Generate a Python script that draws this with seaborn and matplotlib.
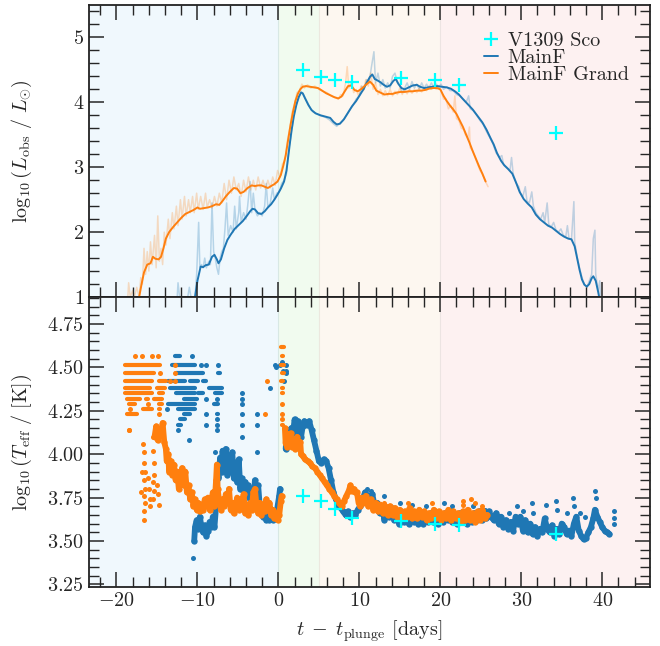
import numpy as np
import pandas as pd
import matplotlib
matplotlib.use("Agg")
import matplotlib.pyplot as plt
import seaborn as sns
from matplotlib.ticker import MultipleLocator
from matplotlib.lines import Line2D

sns.set_theme(style="ticks")
plt.rcParams.update({
    "font.family": "serif",
    "font.serif": ["cmr10"],
    "mathtext.fontset": "cm",
    "axes.formatter.use_mathtext": True,
    "axes.unicode_minus": True,
    "font.size": 14.5,
    "axes.labelsize": 14.5,
    "xtick.labelsize": 14.5,
    "ytick.labelsize": 14.5,
    "legend.fontsize": 14.5,
    "xtick.direction": "in",
    "ytick.direction": "in",
    "xtick.top": True,
    "ytick.right": True,
    "xtick.major.size": 11,
    "ytick.major.size": 11,
    "xtick.minor.size": 7,
    "ytick.minor.size": 7,
    "xtick.major.width": 1.1,
    "ytick.major.width": 1.1,
    "xtick.minor.width": 1.0,
    "ytick.minor.width": 1.0,
    "axes.linewidth": 1.3,
    "axes.edgecolor": "#222222",
})

BLUE = "#1f77b4"
ORANGE = "#ff7f0e"
CYAN = "#00ffff"

# ---------------- observed luminosity (V1309 Sco) ----------------
sco_t = [3.1, 5.3, 7.0, 9.1, 15.1, 19.3, 22.3, 34.3]
sco_logL = [4.50, 4.39, 4.35, 4.32, 4.37, 4.35, 4.26, 3.52]
sco_logT = [3.76, 3.73, 3.685, 3.635, 3.615, 3.60, 3.59, 3.54]

# ---------------- MainF luminosity ----------------
mainf_t = [-10.3, -10.0, -9.6, -9.3, -9.0, -8.6, -8.2, -7.9, -7.6, -7.4, -7.1, -6.7, -6.3, -5.9,
           -5.4, -4.9, -4.4, -3.9, -3.5, -3.2, -2.9, -2.5, -2.1, -1.7, -1.3, -0.9, -0.5, -0.1,
           0.3, 0.7, 1.0, 1.3, 1.6, 1.9, 2.2, 2.5, 2.8, 3.0, 3.3, 3.7, 4.1, 4.6, 5.2, 5.8, 6.4,
           6.8, 7.2, 7.6, 8.1, 8.6, 9.1, 9.6, 10.1, 10.5, 10.9, 11.3, 11.6, 11.9, 12.2, 12.6,
           13.0, 13.4, 13.8, 14.2, 14.5, 14.8, 15.2, 15.6, 16.1, 16.6, 17.1, 17.5, 18.0, 18.5,
           19.0, 19.6, 20.2, 20.8, 21.3, 21.8, 22.3, 22.8, 23.4, 24.0, 24.6, 25.2, 25.7, 26.2,
           26.6, 27.0, 27.5, 27.9, 28.4, 28.9, 29.4, 29.8, 30.3, 30.8, 31.3, 31.8, 32.3, 32.8,
           33.3, 33.8, 34.3, 34.8, 35.3, 35.8, 36.2, 36.6, 36.9, 37.2, 37.5, 37.8, 38.1, 38.4,
           38.7, 38.9, 39.2, 39.5, 39.7]
mainf_logL = [1.0, 1.25, 1.47, 1.46, 1.49, 1.50, 1.62, 1.65, 1.58, 1.52, 1.58, 1.75, 1.88, 1.96,
              2.05, 2.11, 2.17, 2.25, 2.32, 2.36, 2.35, 2.29, 2.28, 2.32, 2.38, 2.43, 2.50, 2.58,
              2.67, 2.78, 2.95, 3.25, 3.55, 3.78, 3.95, 4.08, 4.15, 4.14, 4.06, 3.96, 3.88, 3.83,
              3.80, 3.78, 3.76, 3.70, 3.66, 3.67, 3.74, 3.84, 3.94, 4.02, 4.12, 4.20, 4.30, 4.39,
              4.43, 4.36, 4.34, 4.31, 4.27, 4.24, 4.26, 4.33, 4.36, 4.29, 4.22, 4.20, 4.23, 4.26,
              4.27, 4.24, 4.22, 4.23, 4.24, 4.25, 4.24, 4.23, 4.21, 4.17, 4.12, 4.05, 3.97, 3.89,
              3.79, 3.69, 3.58, 3.45, 3.35, 3.22, 3.10, 3.03, 2.97, 2.90, 2.75, 2.62, 2.51, 2.44,
              2.38, 2.27, 2.20, 2.15, 2.10, 2.07, 2.02, 1.97, 1.93, 1.90, 1.89, 1.78, 1.60, 1.42,
              1.27, 1.19, 1.16, 1.20, 1.29, 1.32, 1.25, 1.08, 0.95]

mainf_raw_t = [-12.5, -12.4, -12.2, -11.2, -11.0, -10.8, -10.3, -10.1, -9.85, -9.7, -9.5, -9.3,
               -9.1, -8.9, -8.6, -8.4, -8.2, -8.0, -7.8, -7.6, -7.4, -7.2, -7.0, -6.8, -6.6,
               -6.4, -6.2, -5.9, -5.6, -5.4, -5.2, -4.9, -4.8, -4.6, -4.3, -4.0, -3.8, -3.5,
               -3.3, -3.1, -2.9, -2.6, -2.3, -2.0, -1.7, -1.5, -1.3, -1.0, -0.7, -0.5, -0.2,
               0.1, 0.4, 0.7, 1.0, 1.3, 1.6, 1.9, 2.2, 2.5, 2.8, 3.1, 3.5, 3.9, 4.3, 4.8, 5.3,
               5.8, 6.3, 6.8, 7.2, 7.6, 8.0, 8.4, 8.8, 9.2, 9.6, 10.0, 10.3, 10.6, 10.9, 11.2,
               11.5, 11.8, 12.0, 12.3, 12.6, 12.9, 13.2, 13.5, 13.8, 14.1, 14.4, 14.7, 15.0,
               15.3, 15.6, 15.9, 16.2, 16.5, 16.8, 17.1, 17.4, 17.7, 18.0, 18.3, 18.6, 18.9,
               19.2, 19.5, 19.8, 20.1, 20.4, 20.8, 21.2, 21.6, 22.0, 22.4, 22.8, 23.2, 23.5,
               23.7, 24.1, 24.5, 24.9, 25.3, 25.7, 26.1, 26.5, 26.9, 27.3, 27.6, 27.8, 28.2,
               28.6, 28.8, 29.0, 29.4, 29.7, 29.9, 30.2, 30.5, 30.7, 31.0, 31.3, 31.5, 31.8,
               32.1, 32.4, 32.7, 32.9, 33.2, 33.4, 33.7, 34.0, 34.3, 34.6, 34.9, 35.2, 35.5,
               35.7, 35.9, 36.2, 36.5, 36.6, 36.9, 37.2, 37.5, 37.8, 38.1, 38.4, 38.7, 38.9,
               39.1, 39.2, 39.5, 39.7, 39.8]
mainf_raw_logL = [1.0, 1.22, 1.0, 1.0, 1.15, 1.0, 1.0, 1.35, 2.15, 1.45, 1.5, 1.45,
                  1.6, 1.45, 1.55, 1.5, 2.45, 1.7, 1.6, 1.45, 1.35, 1.6, 1.7, 1.75, 2.05,
                  2.45, 1.95, 2.1, 2.0, 2.4, 2.05, 2.3, 2.55, 2.15, 2.3, 2.2, 2.4, 2.78,
                  2.3, 2.6, 2.35, 2.25, 2.3, 2.25, 2.4, 2.75, 2.38, 2.45, 2.68, 2.5, 2.6,
                  2.62, 2.75, 2.8, 2.9, 3.3, 3.5, 3.8, 3.98, 4.05, 4.17, 4.12, 4.02, 3.92, 3.85,
                  3.82, 3.79, 3.77, 3.73, 3.67, 3.63, 3.68, 3.72, 3.8, 3.88, 3.95, 4.05, 4.1, 4.25,
                  4.2, 4.35, 4.3, 4.55, 4.78, 4.3, 4.45, 4.25, 4.35, 4.22, 4.3, 4.22, 4.4, 4.45,
                  4.3, 4.25, 4.15, 4.22, 4.3, 4.2, 4.32, 4.22, 4.28, 4.2, 4.3, 4.22, 4.28, 4.22,
                  4.3, 4.23, 4.28, 4.24, 4.28, 4.2, 4.24, 4.18, 4.18, 4.12, 4.1, 4.05, 4.0, 4.1,
                  3.9, 3.87, 3.8, 3.72, 3.66, 3.55, 3.46, 3.36, 3.22, 3.15, 3.18, 3.05, 3.0,
                  2.95, 3.15, 2.9, 2.75, 2.7, 2.6, 2.55, 2.7, 2.48, 2.45, 2.62, 2.4, 2.3,
                  2.25, 2.2, 2.3, 2.15, 2.45, 2.12, 2.08, 2.15, 2.03, 2.0, 2.05, 1.95, 1.93,
                  2.1, 1.9, 1.88, 2.47, 1.85, 1.62, 1.45, 1.3, 1.2, 1.15, 1.25, 1.35, 1.9,
                  2.03, 1.35, 1.1, 1.25, 1.0]

# ---------------- MainF Grand luminosity ----------------
grand_t = [-17.2, -16.9, -16.6, -16.2, -15.8, -15.5, -15.2, -14.8, -14.5, -14.2, -13.9, -13.5,
           -13.0, -12.5, -12.0, -11.5, -11.0, -10.5, -10.0, -9.7, -9.2, -8.7, -8.2, -7.7, -7.3,
           -6.9, -6.5, -6.0, -5.5, -5.1, -4.7, -4.3, -3.8, -3.3, -2.9, -2.5, -2.1, -1.7, -1.3,
           -0.9, -0.5, -0.1, 0.3, 0.6, 0.9, 1.2, 1.5, 1.8, 2.1, 2.4, 2.7, 3.0, 3.4, 3.9, 4.4,
           4.9, 5.4, 5.9, 6.4, 6.9, 7.4, 7.8, 8.2, 8.6, 9.0, 9.4, 9.8, 10.3, 10.8, 11.3, 11.7,
           12.1, 12.6, 13.1, 13.6, 14.1, 14.6, 15.1, 15.6, 16.1, 16.6, 17.1, 17.6, 18.1, 18.6,
           19.1, 19.6, 20.0, 20.4, 20.8, 21.2, 21.6, 22.0, 22.4, 22.8, 23.2, 23.6, 24.0, 24.4,
           24.8, 25.2, 25.6]
grand_logL = [1.0, 1.2, 1.38, 1.50, 1.52, 1.62, 1.59, 1.58, 1.62, 1.75, 1.90, 2.00,
              2.08, 2.15, 2.22, 2.28, 2.31, 2.34, 2.38, 2.36, 2.37, 2.38, 2.40, 2.43, 2.42,
              2.48, 2.55, 2.62, 2.68, 2.67, 2.60, 2.62, 2.68, 2.72, 2.71, 2.72, 2.72, 2.70, 2.68,
              2.71, 2.74, 2.78, 2.88, 3.02, 3.18, 3.42, 3.65, 3.85, 4.02, 4.13, 4.20, 4.24, 4.25,
              4.24, 4.23, 4.22, 4.18, 4.14, 4.11, 4.08, 4.06, 4.09, 4.17, 4.25, 4.26, 4.19, 4.17,
              4.21, 4.27, 4.32, 4.27, 4.18, 4.15, 4.12, 4.13, 4.13, 4.15, 4.16, 4.16, 4.17, 4.17,
              4.18, 4.18, 4.19, 4.21, 4.22, 4.22, 4.20, 4.10, 4.02, 3.95, 3.89, 3.82, 3.72, 3.62,
              3.50, 3.38, 3.25, 3.13, 3.01, 2.90, 2.78]

grand_raw_t = [-18.6, -18.5, -18.3, -18.0, -17.8, -17.5, -17.2, -17.0, -16.8, -16.6, -16.4,
               -16.2, -16.0, -15.8, -15.6, -15.3, -15.1, -14.9, -14.7, -14.5, -14.3, -14.1,
               -13.9, -13.6, -13.4, -13.1, -12.9, -12.6, -12.4, -12.1, -11.9, -11.6, -11.4,
               -11.1, -10.9, -10.6, -10.4, -10.1, -9.9, -9.6, -9.3, -9.0, -8.8, -8.5, -8.2,
               -7.9, -7.6, -7.3, -7.0, -6.7, -6.4, -6.1, -5.8, -5.5, -5.2, -4.9, -4.6, -4.3,
               -4.0, -3.7, -3.4, -3.1, -2.8, -2.5, -2.2, -1.9, -1.6, -1.3, -1.0, -0.7, -0.4,
               -0.1, 0.2, 0.5, 0.8, 1.1, 1.4, 1.7, 2.0, 2.3, 2.6, 2.9, 3.2, 3.6, 4.0, 4.5, 5.0,
               5.5, 6.0, 6.5, 7.0, 7.4, 7.7, 8.0, 8.3, 8.5, 8.7, 9.0, 9.3, 9.6, 9.9, 10.2, 10.5,
               10.8, 11.1, 11.4, 11.7, 12.0, 12.3, 12.6, 12.9, 13.2, 13.5, 13.8, 14.1, 14.4,
               14.7, 15.0, 15.3, 15.6, 15.9, 16.2, 16.5, 16.8, 17.1, 17.4, 17.7, 18.0, 18.3,
               18.6, 18.9, 19.2, 19.5, 19.8, 20.1, 20.4, 20.7, 21.0, 21.3, 21.6, 21.8, 22.0,
               22.3, 22.6, 22.9, 23.1, 23.4, 23.6, 23.7, 24.0, 24.3, 24.6, 24.9, 25.2, 25.5,
               25.9]
grand_raw_logL = [1.0, 1.22, 1.0, 1.1, 1.0, 1.15, 1.0, 1.3, 1.2, 1.75, 1.35,
                  1.7, 1.4, 1.85, 1.5, 1.95, 1.45, 2.25, 1.55, 1.75, 1.5, 2.0,
                  1.8, 2.2, 1.9, 2.3, 2.05, 2.4, 2.1, 2.5, 2.2, 2.55, 2.25,
                  2.5, 2.3, 2.55, 2.3, 2.6, 2.35, 2.55, 2.35, 2.6, 2.38, 2.5, 2.37,
                  2.55, 2.4, 2.6, 2.45, 2.75, 2.5, 2.8, 2.6, 2.85, 2.65, 2.75, 2.55, 2.8,
                  2.62, 2.85, 2.65, 2.8, 2.65, 2.85, 2.68, 2.8, 2.66, 2.8, 2.68, 2.85, 2.72,
                  2.95, 2.85, 3.05, 3.1, 3.4, 3.6, 3.85, 3.98, 4.15, 4.18, 4.28, 4.22, 4.27, 4.22,
                  4.25, 4.2, 4.17, 4.15, 4.1, 4.07, 4.05, 4.12, 4.1, 4.3, 4.55, 4.22, 4.3, 4.15,
                  4.2, 4.1, 4.25, 4.18, 4.35, 4.25, 4.45, 4.2, 4.3, 4.12, 4.2, 4.1, 4.18, 4.1,
                  4.2, 4.1, 4.17, 4.12, 4.22, 4.12, 4.2, 4.13, 4.2, 4.14, 4.2, 4.15, 4.22, 4.16,
                  4.22, 4.18, 4.25, 4.2, 4.25, 4.2, 4.23, 4.18, 4.05, 4.05, 3.9, 3.95, 3.85,
                  4.1, 3.75, 3.72, 3.6, 3.58, 3.5, 3.45, 3.62, 3.3, 3.25, 3.15, 3.05, 2.95,
                  2.9, 2.8, 2.7]

# ---------------- effective temperature ----------------
# quantised hot rows: level -> list of (t_start, t_end)
mainf_rows = {
    4.563: [(-12.8, -12.1), (-10.7, -10.7)],
    4.513: [(-13.2, -10.3), (-9.5, -9.5), (-8.9, -8.9), (-7.4, -7.4), (-0.4, -0.4), (0.2, 0.2), (1.0, 1.0)],
    4.465: [(-12.6, -9.3), (-7.4, -7.2), (1.0, 1.0)],
    4.420: [(-13.6, -11.5), (-10.9, -9.9), (-9.3, -8.9)],
    4.380: [(-13.4, -10.3), (-8.6, -7.0), (-1.0, -1.0)],
    4.350: [(-12.6, -10.3), (-9.9, -9.3), (-7.8, -7.0), (-4.5, -4.5)],
    4.317: [(-11.7, -10.1), (-8.9, -8.9), (-7.6, -7.6), (-4.5, -4.5)],
    4.290: [(-13.6, -10.3), (-8.0, -7.4), (-4.5, -4.5)],
    4.260: [(-13.8, -13.8), (-12.4, -10.3)],
    4.230: [(-11.7, -10.9), (-8.9, -8.9), (-7.6, -7.4), (-4.5, -4.5), (-2.7, -2.7)],
    4.200: [(-12.1, -11.5), (-7.6, -7.6)],
    4.170: [(-12.4, -12.0), (-8.9, -8.9), (-7.6, -7.6), (-4.5, -4.5), (-2.7, -2.7)],
    4.140: [(-12.4, -12.4), (-7.6, -7.6)],
    4.100: [(-4.5, -4.5)],
    4.080: [(-11.1, -11.1)],
    4.010: [(-7.8, -7.8), (-2.7, -2.7)],
}
grand_rows = {
    4.620: [(0.3, 0.7)],
    4.563: [(-17.7, -17.7), (-16.9, -16.9), (-15.6, -15.6), (-14.9, -14.9), (0.4, 0.6)],
    4.513: [(-18.9, -14.6), (-12.8, -12.8), (0.3, 0.7)],
    4.465: [(-18.9, -15.4), (-14.6, -14.6), (-12.8, -12.8), (0.4, 0.7)],
    4.420: [(-18.9, -15.6), (-14.8, -13.9), (-13.4, -13.4), (-12.8, -12.8), (-1.45, -1.45), (0.3, 0.6)],
    4.380: [(-18.9, -15.8), (-15.0, -14.0), (0.4, 0.6)],
    4.350: [(-18.9, -15.6), (-14.8, -14.2), (0.4, 0.6)],
    4.317: [(-18.7, -17.1), (-16.3, -16.1), (-15.4, -14.4)],
    4.290: [(-18.5, -17.7), (-16.1, -16.1), (-14.8, -14.4), (0.5, 0.5)],
    4.260: [(-18.3, -18.3), (-16.7, -15.6), (-14.8, -14.6)],
    4.230: [(-18.7, -17.5), (-14.8, -14.8), (-1.65, -1.65), (0.5, 0.5)],
    4.200: [(0.5, 0.5)],
    4.170: [(0.4, 0.6)],
    4.140: [(-18.5, -18.5)],
}

# dense cooling tracks
mainf_track_t = [-10.4, -10.3, -10.1, -9.9, -9.7, -9.5, -9.3, -9.1, -8.9, -8.7, -8.5, -8.3, -8.1,
                 -7.9, -7.7, -7.6, -7.5, -7.4, -7.2, -7.0, -6.9, -6.7, -6.5, -6.3, -6.1, -5.9,
                 -5.7, -5.5, -5.3, -5.1, -4.9, -4.7, -4.5, -4.3, -4.1, -3.9, -3.7, -3.5, -3.3,
                 -3.1, -2.9, -2.7, -2.5, -2.3, -2.1, -1.9, -1.7, -1.5, -1.3, -1.1, -0.9, -0.7,
                 -0.5, -0.3, -0.1, 0.1, 0.2]
mainf_track_logT = [3.50, 3.58, 3.62, 3.57, 3.64, 3.58, 3.55, 3.59, 3.53, 3.56, 3.61, 3.58, 3.64,
                    3.58, 3.70, 3.80, 3.92, 3.86, 3.98, 3.90, 4.02, 3.92, 4.03, 3.88, 3.96, 3.90,
                    4.01, 3.86, 3.95, 3.84, 3.97, 3.80, 3.86, 3.78, 3.84, 3.76, 3.82, 3.74, 3.79,
                    3.72, 3.85, 3.76, 3.82, 3.70, 3.68, 3.64, 3.66, 3.62, 3.65, 3.62, 3.66, 3.62,
                    3.66, 3.64, 3.70, 3.76, 3.80]
mainf_late_t = [0.9, 1.0, 1.1, 1.2, 1.4, 1.6, 1.8, 2.0, 2.2, 2.4, 2.6, 2.8, 3.0, 3.2, 3.5, 3.8,
                4.1, 4.4, 4.7, 5.0, 5.3, 5.6, 5.9, 6.2, 6.5, 6.8, 7.1, 7.4, 7.7, 8.0, 8.3, 8.6,
                8.9, 9.2, 9.5, 9.8, 10.1, 10.4, 10.7, 11.0, 11.3, 11.6, 11.9, 12.2, 12.5, 12.8,
                13.1, 13.4, 13.7, 14.0, 14.3, 14.6, 14.9, 15.2, 15.5, 15.8, 16.1, 16.4, 16.7,
                17.0, 17.3, 17.6, 17.9, 18.2, 18.5, 18.8, 19.1, 19.4, 19.7, 20.0, 20.3, 20.6,
                20.9, 21.2, 21.5, 21.8, 22.1, 22.4, 22.7, 23.0, 23.3, 23.6, 23.9, 24.2, 24.5,
                24.8, 25.1, 25.4, 25.7, 26.0, 26.3, 26.6, 26.9, 27.2, 27.5, 27.8, 28.1, 28.4,
                28.7, 29.0, 29.3, 29.6, 29.9, 30.2, 30.5, 30.8, 31.1, 31.4, 31.7, 32.0, 32.3,
                32.6, 32.9, 33.2, 33.5, 33.8, 34.1, 34.4, 34.7, 35.0, 35.3, 35.6, 35.9, 36.2,
                36.5, 36.8, 37.1, 37.4, 37.7, 38.0, 38.3, 38.6, 38.9, 39.1, 39.4, 39.7, 40.0,
                40.3, 40.6, 40.9]
mainf_late_logT = [4.03, 4.10, 4.05, 4.14, 4.08, 4.15, 4.12, 4.20, 4.14, 4.19, 4.12, 4.10, 4.16,
                   4.19, 4.17, 4.19, 4.14, 4.08, 4.02, 3.96, 3.95, 3.97, 3.96, 3.92, 3.85, 3.78,
                   3.74, 3.71, 3.69, 3.67, 3.65, 3.67, 3.64, 3.66, 3.65, 3.68, 3.70, 3.74, 3.78,
                   3.76, 3.74, 3.77, 3.70, 3.72, 3.66, 3.70, 3.62, 3.68, 3.64, 3.69, 3.62, 3.66,
                   3.60, 3.65, 3.61, 3.66, 3.60, 3.64, 3.61, 3.66, 3.60, 3.64, 3.60, 3.65, 3.61,
                   3.66, 3.61, 3.64, 3.60, 3.65, 3.61, 3.66, 3.62, 3.67, 3.61, 3.65, 3.60, 3.66,
                   3.61, 3.65, 3.60, 3.64, 3.61, 3.66, 3.62, 3.67, 3.62, 3.66, 3.63, 3.67, 3.64,
                   3.62, 3.66, 3.60, 3.64, 3.58, 3.62, 3.57, 3.61, 3.56, 3.64, 3.60, 3.64, 3.56,
                   3.62, 3.55, 3.60, 3.54, 3.58, 3.53, 3.57, 3.55, 3.63, 3.57, 3.55, 3.59, 3.53,
                   3.57, 3.54, 3.60, 3.58, 3.54, 3.56, 3.53, 3.60, 3.64, 3.56, 3.53, 3.51, 3.52,
                   3.55, 3.58, 3.63, 3.68, 3.64, 3.61, 3.58, 3.56, 3.55, 3.54]
mainf_dots_t = [-10.5, -0.3, 0.5, 0.6, 0.7, 0.9, 11.0, 11.5, 13.0, 15.0, 16.5, 18.2, 20.5, 21.5,
                24.0, 25.5, 28.5, 29.5, 30.2, 31.3, 31.5, 33.1, 34.3, 34.4, 35.6, 36.4, 36.5,
                37.2, 37.9, 39.1, 39.2, 41.4, 41.4, 41.4]
mainf_dots_logT = [3.40, 4.50, 4.53, 4.48, 4.42, 4.48, 3.80, 3.79, 3.76, 3.72, 3.71, 3.70, 3.72,
                   3.70, 3.70, 3.68, 3.66, 3.70, 3.67, 3.72, 3.66, 3.71, 3.73, 3.68, 3.66, 3.75,
                   3.70, 3.66, 3.64, 3.79, 3.75, 3.67, 3.63, 3.60]

grand_track_t = [-15.3, -15.1, -14.9, -14.7, -14.5, -14.3, -14.1, -13.9, -13.8, -13.6, -13.5,
                 -13.3, -13.1, -12.9, -12.7, -12.5, -12.3, -12.1, -11.9, -11.7, -11.5, -11.3,
                 -11.1, -10.9, -10.7, -10.5, -10.3, -10.1, -9.9, -9.7, -9.5, -9.3, -9.1, -8.9,
                 -8.7, -8.5, -8.3, -8.1, -7.9, -7.7, -7.6, -7.5, -7.3, -7.1, -6.9, -6.7, -6.5,
                 -6.3, -6.1, -5.9, -5.7, -5.5, -5.3, -5.1, -4.9, -4.7, -4.5, -4.3, -4.1, -3.9,
                 -3.7, -3.5, -3.3, -3.1, -2.9, -2.7, -2.5, -2.3, -2.1, -1.9, -1.7, -1.5, -1.3,
                 -1.1, -0.9, -0.7, -0.5, -0.3, -0.1, 0.1, 0.3, 0.4]
grand_track_logT = [4.10, 4.16, 4.08, 4.14, 4.12, 4.18, 4.07, 4.03, 3.96, 4.00, 3.90,
                    3.96, 3.88, 3.94, 3.85, 3.90, 3.80, 3.86, 3.92, 3.82, 3.90, 3.78,
                    3.82, 3.74, 3.78, 3.70, 3.74, 3.68, 3.72, 3.67, 3.71, 3.68, 3.74, 3.70,
                    3.75, 3.68, 3.73, 3.78, 3.70, 3.85, 3.94, 3.80, 3.72, 3.68, 3.74, 3.70, 3.77,
                    3.72, 3.80, 3.68, 3.72, 3.66, 3.70, 3.75, 3.68, 3.74, 3.70, 3.77, 3.66, 3.70,
                    3.65, 3.72, 3.68, 3.78, 3.80, 3.70, 3.66, 3.72, 3.65, 3.70, 3.67, 3.74, 3.68,
                    3.72, 3.65, 3.68, 3.63, 3.66, 3.62, 3.65, 3.73, 3.76]
grand_late_t = [0.8, 0.9, 1.0, 1.1, 1.2, 1.3, 1.5, 1.7, 1.9, 2.1, 2.3, 2.5, 2.7, 2.8, 3.0, 3.3,
                3.6, 3.9, 4.2, 4.5, 4.8, 5.1, 5.4, 5.7, 6.0, 6.3, 6.6, 6.9, 7.2, 7.5, 7.8, 8.1,
                8.4, 8.7, 8.9, 9.1, 9.3, 9.5, 9.7, 9.9, 10.1, 10.3, 10.5, 10.8, 11.1, 11.4, 11.7,
                12.0, 12.3, 12.6, 12.9, 13.2, 13.5, 13.8, 14.1, 14.4, 14.7, 15.0, 15.3, 15.6,
                15.9, 16.2, 16.5, 16.8, 17.1, 17.4, 17.7, 18.0, 18.3, 18.6, 18.9, 19.2, 19.5,
                19.8, 20.1, 20.4, 20.7, 21.0, 21.3, 21.6, 21.9, 22.2, 22.5, 22.8, 23.1, 23.4,
                23.7, 24.0, 24.3, 24.6, 24.9, 25.2, 25.5, 25.8]
grand_late_logT = [4.15, 4.06, 4.12, 4.04, 4.10, 4.06, 4.12, 4.04, 4.08, 4.03, 4.10, 4.05, 4.07,
                   4.00, 3.99, 3.97, 3.96, 3.95, 3.93, 3.92, 3.90, 3.88, 3.86, 3.84, 3.82, 3.80,
                   3.78, 3.76, 3.74, 3.72, 3.70, 3.73, 3.76, 3.79, 3.82, 3.79, 3.80, 3.78, 3.78,
                   3.72, 3.70, 3.75, 3.72, 3.76, 3.70, 3.74, 3.68, 3.72, 3.67, 3.71, 3.66, 3.70,
                   3.65, 3.70, 3.65, 3.69, 3.64, 3.68, 3.63, 3.67, 3.64, 3.69, 3.63, 3.67, 3.63,
                   3.68, 3.64, 3.67, 3.62, 3.66, 3.63, 3.68, 3.63, 3.67, 3.62, 3.66, 3.63, 3.68,
                   3.62, 3.67, 3.63, 3.66, 3.61, 3.67, 3.62, 3.68, 3.62, 3.66, 3.61, 3.67, 3.62,
                   3.68, 3.63, 3.65]
grand_dots_t = [-18.5, -16.7, -16.6, -16.6, -16.5, -16.6, -16.5, -16.6, -16.5, -16.6, -16.6,
                -16.1, -16.0, -15.9, -15.8, -15.5, -15.5, -15.4, -15.4, -15.5, -15.4, -15.5,
                -15.0, -14.9, -14.8, -17.0, -16.9, 13.0, 16.0, 19.0, 22.8, 22.8, 23.8, 24.3,
                25.2]
grand_dots_logT = [4.14, 4.06, 4.01, 3.95, 3.90, 3.85, 3.80, 3.76, 3.72, 3.67, 3.62,
                   3.86, 3.80, 3.74, 3.70, 4.10, 4.02, 3.95, 3.88, 3.84, 3.79, 3.74,
                   3.82, 3.77, 3.71, 3.78, 3.90, 3.72, 3.72, 3.72, 3.73, 3.71, 3.74, 3.72,
                   3.70]

# ---------------- figure ----------------
XMIN, XMAX = -23.4, 45.9
phases = [(XMIN, 0.0, "#f0f8fd"), (0.0, 5.0, "#f1fbef"), (5.0, 20.0, "#fdf7f0"), (20.0, XMAX, "#fdf1f1")]

fig = plt.figure(figsize=(6.6, 6.46), dpi=100)
ax1 = fig.add_axes([0.1348, 0.5402, 0.8500, 0.4521])
ax2 = fig.add_axes([0.1348, 0.0913, 0.8500, 0.4489], sharex=ax1)

for ax in (ax1, ax2):
    for x0, x1, c in phases:
        ax.axvspan(x0, x1, color=c, lw=0, zorder=0)
    for xb, c in [(0.0, "#d8e8e4"), (5.0, "#ece8df"), (20.0, "#ece4e2")]:
        ax.axvline(xb, color=c, lw=0.8, zorder=0.5)

# upper panel: luminosity
sns.lineplot(x=mainf_raw_t, y=mainf_raw_logL, ax=ax1, color=BLUE, alpha=0.28, lw=1.1,
             sort=False, estimator=None, zorder=1)
sns.lineplot(x=grand_raw_t, y=grand_raw_logL, ax=ax1, color=ORANGE, alpha=0.25, lw=1.1,
             sort=False, estimator=None, zorder=1)
sns.lineplot(x=mainf_t, y=mainf_logL, ax=ax1, color=BLUE, lw=1.4,
             sort=False, estimator=None, zorder=2)
sns.lineplot(x=grand_t, y=grand_logL, ax=ax1, color=ORANGE, lw=1.4,
             sort=False, estimator=None, zorder=3)
sns.scatterplot(x=sco_t, y=sco_logL, ax=ax1, marker="+", s=100, color=CYAN,
                linewidth=1.6, zorder=5)

handles = [
    Line2D([], [], color=CYAN, marker="+", ls="", markersize=10, mew=1.6),
    Line2D([], [], color=BLUE, lw=1.4),
    Line2D([], [], color=ORANGE, lw=1.4),
]
ax1.legend(handles, ["V1309 Sco", "MainF", "MainF Grand"], loc="upper right",
           bbox_to_anchor=(0.982, 0.945), frameon=False, handlelength=0.7,
           handletextpad=0.5, borderaxespad=0.25, labelspacing=-0.05, borderpad=0.3)


def rows_frame(rows):
    recs, singles = [], []
    uid = 0
    for level, segs in rows.items():
        for t0, t1 in segs:
            if t1 > t0:
                recs.append((uid, t0, level))
                recs.append((uid, t1, level))
                uid += 1
            else:
                singles.append((t0, level))
    return (pd.DataFrame(recs, columns=["seg", "t", "logT"]),
            pd.DataFrame(singles, columns=["t", "logT"]))


ROW_LW = 3.0
TRACK_LW = 4.2
DOT_S = 13

for rows, track, late, dots, col, z in [
    (mainf_rows, (mainf_track_t, mainf_track_logT), (mainf_late_t, mainf_late_logT),
     (mainf_dots_t, mainf_dots_logT), BLUE, 2),
    (grand_rows, (grand_track_t, grand_track_logT), (grand_late_t, grand_late_logT),
     (grand_dots_t, grand_dots_logT), ORANGE, 3),
]:
    segs, singles = rows_frame(rows)
    sns.lineplot(data=segs, x="t", y="logT", units="seg", estimator=None, ax=ax2, color=col,
                 lw=ROW_LW, solid_capstyle="round", zorder=z)
    sns.scatterplot(data=singles, x="t", y="logT", ax=ax2, color=col, s=DOT_S,
                    linewidth=0, zorder=z)
    for tt, yy in (track, late):
        sns.lineplot(x=tt, y=yy, ax=ax2, color=col, lw=TRACK_LW, sort=False, estimator=None,
                     solid_joinstyle="round", solid_capstyle="round", zorder=z)
        sns.scatterplot(x=tt, y=yy, ax=ax2, color=col, s=DOT_S * 1.6, linewidth=0, zorder=z)
    sns.scatterplot(x=dots[0], y=dots[1], ax=ax2, color=col, s=DOT_S, linewidth=0, zorder=z)

sns.scatterplot(x=sco_t, y=sco_logT, ax=ax2, marker="+", s=100, color=CYAN,
                linewidth=1.6, zorder=5)

# axes styling
ax1.set_xlim(XMIN, XMAX)
ax1.set_ylim(1.0, 5.5)
ax2.set_ylim(3.235, 4.905)

ax1.xaxis.set_major_locator(MultipleLocator(10))
ax1.xaxis.set_minor_locator(MultipleLocator(2))
ax1.yaxis.set_major_locator(MultipleLocator(1))
ax1.yaxis.set_minor_locator(MultipleLocator(0.2))
ax2.yaxis.set_major_locator(MultipleLocator(0.25))
ax2.yaxis.set_minor_locator(MultipleLocator(0.05))

for ax in (ax1, ax2):
    ax.tick_params(which="both", direction="in", top=True, right=True)
    ax.set_axisbelow(False)
ax1.tick_params(labelbottom=False)

ax1.set_xlabel("")
ax1.set_ylabel(r"$\log_{10}(L_{\rm obs}\ /\ L_{\odot})$")
ax2.set_ylabel(r"$\log_{10}(T_{\rm eff}\ /\ [{\rm K}])$")
ax1.yaxis.set_label_coords(-0.098, 0.5)
ax2.yaxis.set_label_coords(-0.098, 0.5)
ax2.set_xlabel(r"$t\;-\;t_{\rm plunge}$ [days]", labelpad=6)

fig.savefig("out.png", dpi=100)
